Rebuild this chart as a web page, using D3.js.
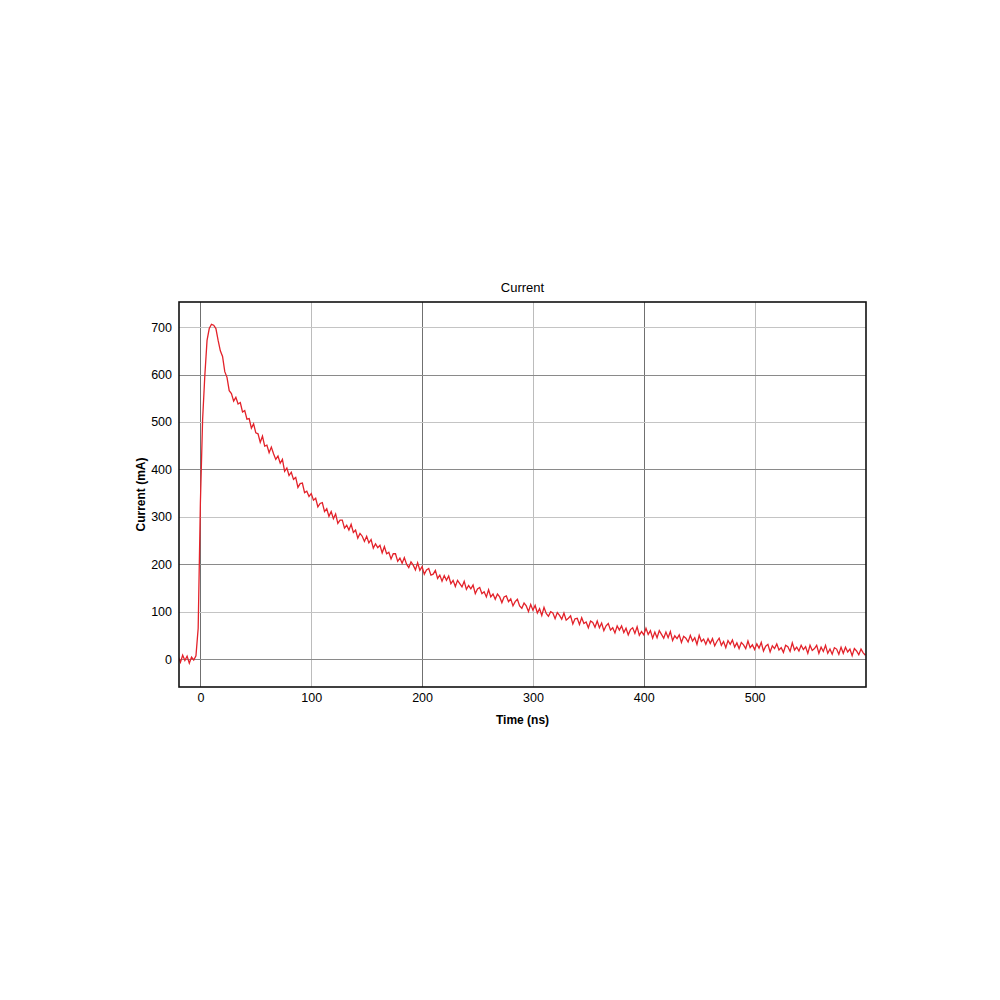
<!DOCTYPE html>
<html>
<head>
<meta charset="utf-8">
<script src="https://cdn.jsdelivr.net/npm/d3@7"></script>
<style>
  body { margin: 0; background: #fff; }
  svg text { font-family: "Liberation Sans", Arial, sans-serif; fill: #000; }
  .axis path, .axis line { display: none; }
</style>
</head>
<body>
<div id="chart"></div>
<script>
// sample times (ns), one every 2 ns
const timeNs = d3.range(-20, 601, 2);

// current (mA)
const currentMA = [
  5, -7, 8, -3, 6, -9, 4, -2, 7, 65,
  330, 505, 598, 672, 697, 706, 704, 697, 672, 650,
  638, 606, 594, 566, 560, 544, 552, 538, 541, 521,
  524, 506, 507, 487, 496, 477, 475, 457, 470, 449,
  451, 435, 447, 433, 421, 428, 413, 421, 396, 403,
  387, 394, 379, 383, 362, 370, 371, 351, 354, 343,
  349, 335, 339, 321, 328, 330, 311, 317, 301, 311,
  296, 306, 286, 293, 293, 276, 282, 272, 284, 267,
  272, 255, 265, 259, 248, 259, 245, 252, 234, 243,
  235, 240, 224, 237, 222, 225, 211, 222, 222, 206,
  213, 202, 214, 200, 193, 205, 198, 188, 203, 187,
  195, 179, 188, 191, 177, 179, 187, 170, 177, 164,
  176, 166, 175, 159, 166, 153, 166, 159, 152, 164,
  147, 155, 148, 156, 138, 148, 151, 138, 142, 131,
  146, 131, 137, 126, 137, 131, 119, 131, 133, 121,
  127, 112, 121, 126, 112, 107, 118, 112, 100, 115,
  103, 113, 97, 106, 92, 109, 96, 90, 100, 97,
  85, 98, 92, 84, 97, 82, 86, 91, 74, 85,
  86, 73, 87, 75, 78, 66, 80, 77, 67, 80,
  66, 76, 60, 70, 75, 61, 66, 55, 70, 61,
  70, 56, 65, 51, 62, 66, 54, 68, 50, 58,
  51, 65, 52, 60, 44, 57, 45, 60, 52, 44,
  57, 45, 58, 39, 49, 43, 51, 35, 48, 44,
  36, 50, 38, 45, 31, 50, 37, 42, 31, 43,
  33, 43, 28, 37, 44, 29, 37, 24, 39, 31,
  40, 25, 34, 22, 35, 30, 22, 38, 24, 30,
  20, 32, 23, 35, 17, 27, 31, 15, 28, 22,
  32, 19, 24, 14, 29, 26, 16, 34, 19, 25,
  17, 29, 20, 26, 12, 29, 18, 22, 29, 12,
  25, 16, 29, 12, 21, 10, 24, 21, 10, 25,
  12, 25, 15, 21, 7, 22, 17, 9, 21, 13,
  8
];

const xTicks = [0, 100, 200, 300, 400, 500];
const yTicks = [0, 100, 200, 300, 400, 500, 600, 700];
const xMajor = [0, 200, 400];
const yMajor = [0, 200, 400, 600];

(function () {
  const data = timeNs.map((t, i) => ({ t: t, v: currentMA[i] }));

  const svg = d3.select('#chart')
    .append('svg')
    .attr('width', 1000)
    .attr('height', 1000);

  const pLeft = 179, pRight = 866, pTop = 302, pBottom = 687;

  const x = d3.scaleLinear().domain([-19.3, 600.5]).range([pLeft, pRight]);
  const y = d3.scaleLinear().domain([-59, 753]).range([pBottom, pTop]);

  // grid
  const grid = svg.append('g').attr('shape-rendering', 'crispEdges');
  grid.selectAll('line.gx')
    .data(xTicks)
    .enter()
    .append('line')
    .attr('class', 'gx')
    .attr('x1', d => Math.round(x(d)) + 0.5)
    .attr('x2', d => Math.round(x(d)) + 0.5)
    .attr('y1', pTop)
    .attr('y2', pBottom)
    .attr('stroke', d => xMajor.includes(d) ? '#707070' : '#bcbcbc')
    .attr('stroke-width', 1);

  grid.selectAll('line.gy')
    .data(yTicks)
    .enter()
    .append('line')
    .attr('class', 'gy')
    .attr('x1', pLeft)
    .attr('x2', pRight)
    .attr('y1', d => Math.round(y(d)) + 0.5)
    .attr('y2', d => Math.round(y(d)) + 0.5)
    .attr('stroke', d => yMajor.includes(d) ? '#8a8a8a' : '#c4c4c4')
    .attr('stroke-width', 1);

  // trace
  svg.append('clipPath')
    .attr('id', 'plotclip')
    .append('rect')
    .attr('x', pLeft)
    .attr('y', pTop)
    .attr('width', pRight - pLeft)
    .attr('height', pBottom - pTop);

  const line = d3.line()
    .x(d => x(d.t))
    .y(d => y(d.v));

  svg.append('path')
    .datum(data)
    .attr('clip-path', 'url(#plotclip)')
    .attr('fill', 'none')
    .attr('stroke', '#e3222a')
    .attr('stroke-width', 1.3)
    .attr('d', line);

  // frame
  svg.append('rect')
    .attr('x', pLeft)
    .attr('y', pTop)
    .attr('width', pRight - pLeft)
    .attr('height', pBottom - pTop)
    .attr('fill', 'none')
    .attr('stroke', '#111')
    .attr('stroke-width', 1.6);

  // axes (labels only)
  svg.append('g')
    .attr('class', 'axis')
    .attr('transform', `translate(0,${pBottom + 4})`)
    .call(d3.axisBottom(x).tickValues(xTicks).tickSize(0).tickPadding(2))
    .selectAll('text')
    .style('font-size', '12.5px');

  svg.append('g')
    .attr('class', 'axis')
    .attr('transform', `translate(${pLeft - 5},0)`)
    .call(d3.axisLeft(y).tickValues(yTicks).tickSize(0).tickPadding(2))
    .selectAll('text')
    .style('font-size', '12.5px');

  svg.selectAll('.axis text').attr('fill', '#000');

  // titles
  svg.append('text')
    .attr('x', (pLeft + pRight) / 2)
    .attr('y', 292)
    .attr('text-anchor', 'middle')
    .style('font-size', '13px')
    .text('Current');

  svg.append('text')
    .attr('x', (pLeft + pRight) / 2)
    .attr('y', 724)
    .attr('text-anchor', 'middle')
    .style('font-size', '12px')
    .style('font-weight', 'bold')
    .text('Time (ns)');

  svg.append('text')
    .attr('transform', `translate(145,${(pTop + pBottom) / 2}) rotate(-90)`)
    .attr('text-anchor', 'middle')
    .style('font-size', '12px')
    .style('font-weight', 'bold')
    .text('Current (mA)');
})();
</script>
</body>
</html>
